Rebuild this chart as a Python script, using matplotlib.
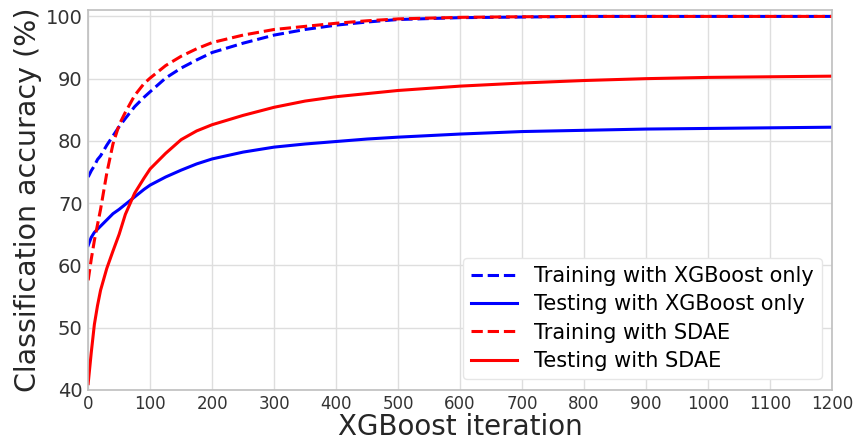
import numpy as np
import matplotlib
matplotlib.use('Agg')
import matplotlib.pyplot as plt

iters = [0, 5, 10, 15, 20, 30, 40, 50, 60, 75, 90, 100, 125, 150, 175, 200,
         250, 300, 350, 400, 450, 500, 600, 700, 800, 900, 1000, 1100, 1200]
train_xgb = [74.2, 75.2, 76.0, 77.0, 77.6, 79.3, 80.8, 82.3, 83.6, 85.5, 87.0, 87.9, 90.1, 91.7, 93.0, 94.2,
             95.7, 97.0, 97.9, 98.6, 99.1, 99.5, 99.8, 99.9, 100, 100, 100, 100, 100]
test_xgb = [63.2, 64.5, 65.3, 65.8, 66.3, 67.3, 68.3, 69.0, 69.8, 71.0, 72.2, 72.9, 74.2, 75.3, 76.3, 77.1,
            78.2, 79.0, 79.5, 79.9, 80.3, 80.6, 81.1, 81.5, 81.7, 81.9, 82.0, 82.1, 82.2]
train_sdae = [57.6, 61.0, 64.0, 66.5, 69.0, 74.8, 79.5, 82.6, 84.6, 87.3, 89.2, 90.1, 92.1, 93.6, 94.8, 95.8,
              97.0, 97.9, 98.4, 98.9, 99.3, 99.6, 99.85, 99.95, 100, 100, 100, 100, 100]
test_sdae = [41.0, 46.0, 50.5, 53.5, 56.0, 59.5, 62.3, 65.0, 68.2, 71.6, 74.0, 75.5, 78.0, 80.2, 81.6, 82.6,
             84.1, 85.4, 86.4, 87.1, 87.6, 88.1, 88.8, 89.3, 89.7, 90.0, 90.2, 90.3, 90.4]

plt.rcParams['font.family'] = 'DejaVu Sans'
fig = plt.figure(figsize=(8.56, 4.43), dpi=100)
ax = fig.add_axes([0.103, 0.12, 0.869, 0.857])

ax.plot(iters, train_xgb, '--', color='blue', lw=2.2, label='Training with XGBoost only')
ax.plot(iters, test_xgb, '-', color='blue', lw=2.2, label='Testing with XGBoost only')
ax.plot(iters, train_sdae, '--', color='red', lw=2.2, label='Training with SDAE')
ax.plot(iters, test_sdae, '-', color='red', lw=2.2, label='Testing with SDAE')

ax.set_xlim(0, 1200)
ax.set_ylim(40, 101)
ax.set_xticks(np.arange(0, 1201, 100))
ax.set_yticks(np.arange(40, 101, 10))
ax.tick_params(axis='x', labelsize=12, length=0, colors='0.2', pad=4)
ax.tick_params(axis='y', labelsize=14, length=0, colors='0.2', pad=4)
ax.grid(True, color='0.87', lw=1)
for s in ax.spines.values():
    s.set_color('0.75')
    s.set_linewidth(1.2)

ax.set_xlabel('XGBoost iteration', fontsize=20, color='0.15', labelpad=0)
ax.set_ylabel('Classification accuracy (%)', fontsize=20.5, color='0.15', labelpad=3)
ax.legend(loc='lower right', fontsize=15, frameon=True, framealpha=1,
          edgecolor='0.9', handlelength=2.2, labelspacing=0.4)

plt.savefig('out.png', dpi=100)
